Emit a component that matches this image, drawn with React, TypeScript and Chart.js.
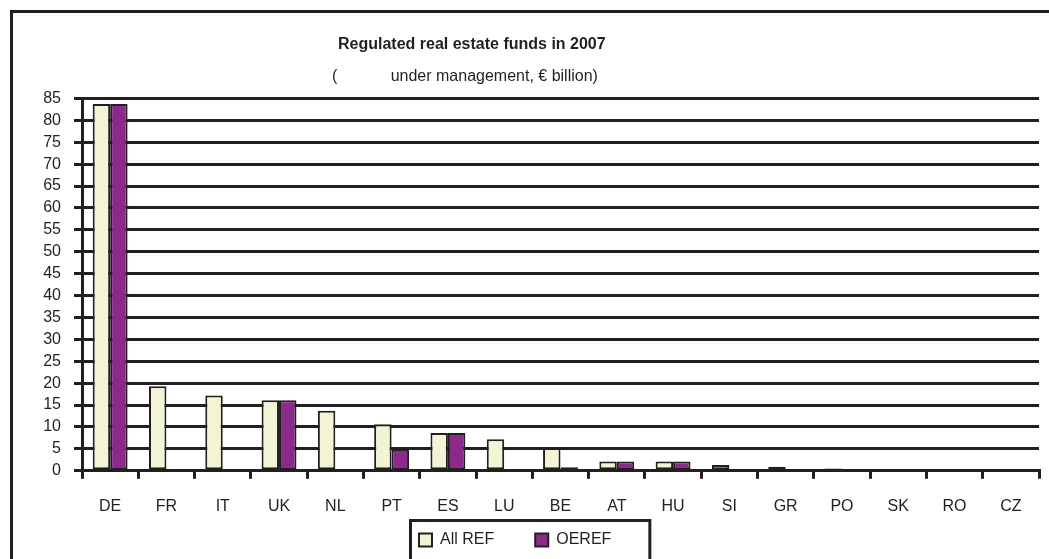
import React, { useEffect, useRef } from "react";
import { Chart, registerables } from "chart.js";

Chart.register(...registerables);

const categories = ["DE", "FR", "IT", "UK", "NL", "PT", "ES", "LU", "BE", "AT", "HU", "SI", "GR", "PO", "SK", "RO", "CZ"];
const allRefValues = [83.7, 19.3, 17.2, 16.1, 13.7, 10.6, 8.6, 7.2, 5.2, 2.1, 2.1, 1.3, 0.9, 0.5, 0, 0, 0];
const oerefValues = [83.7, null, null, 16.1, null, 4.8, 8.6, null, 0.8, 2.1, 2.1, null, null, null, null, null, null];
const seriesNames = ["All REF", "OEREF"];
const yMin = 0;
const yMax = 85;
const yStep = 5;
const titleText = "Regulated real estate funds in 2007";
const subtitleText = "(            under management, € billion)";

const INK = "#231f20";
const CREAM = "#f3f3d5";
const PURPLE = "#8c2a8c";
const FONT = "'Liberation Sans', Arial, Helvetica, sans-serif";

const refLayout = {
  id: "refLayout",
  afterLayout(chart: any) {
    const t = chart.titleBlock;
    if (t) {
      const w = t.right - t.left;
      t.left = 338;
      t.right = 338 + w;
      const sub = chart.boxes.find((b: any) => b !== t && b.constructor === t.constructor);
      if (sub) {
        const sw = sub.right - sub.left;
        sub.left = 332;
        sub.right = 332 + sw;
      }
    }
    const lg = chart.legend;
    if (lg && lg.lineWidths) {
      const pad = lg.options.labels.padding;
      const cur = (lg.left + pad + lg.right - lg.lineWidths[0]) / 2;
      const d = 419 - cur;
      lg.left += d;
      lg.right += d;
      lg.top = 532 - pad;
      lg.bottom = chart.height;
      lg.height = lg.bottom - lg.top;
    }
  },
  beforeDraw(chart: any) {
    const ctx = chart.ctx;
    ctx.save();
    ctx.strokeStyle = INK;
    ctx.lineWidth = 3;
    ctx.strokeRect(11.5, 11.5, chart.width + 40, chart.height + 40);
    ctx.restore();
  },
  afterDraw(chart: any) {
    const lg = chart.legend;
    const hb = lg && lg.legendHitBoxes;
    if (!hb || hb.length < 2) return;
    const first = hb[0];
    const last = hb[hb.length - 1];
    const ctx = chart.ctx;
    ctx.save();
    ctx.strokeStyle = INK;
    ctx.lineWidth = 3;
    const left = first.left - 9;
    const right = last.left + last.width + 38;
    const top = first.top - 12;
    ctx.strokeRect(Math.round(left) + 0.5, Math.round(top) + 0.5, right - left, chart.height - top + 20);
    ctx.restore();
  },
};

export default function App() {
  const canvasRef = useRef<HTMLCanvasElement>(null);

  useEffect(() => {
    const canvas = canvasRef.current;
    if (!canvas) return;
    Chart.defaults.font.family = FONT;
    Chart.defaults.color = INK;
    const chart = new Chart(canvas, {
      type: "bar",
      data: {
        labels: categories,
        datasets: [
          {
            label: seriesNames[0],
            data: allRefValues,
            backgroundColor: CREAM,
            borderColor: INK,
            borderWidth: 2,
            borderSkipped: false,
          },
          {
            label: seriesNames[1],
            data: oerefValues,
            backgroundColor: PURPLE,
            borderColor: INK,
            borderWidth: 2,
            borderSkipped: false,
          },
        ],
      },
      options: {
        responsive: false,
        animation: false,
        devicePixelRatio: 1,
        datasets: {
          bar: {
            categoryPercentage: 0.62,
            barPercentage: 1,
          },
        },
        layout: {
          padding: { left: 20, right: 10, top: 0, bottom: 0 },
        },
        plugins: {
          title: {
            display: true,
            text: titleText,
            align: "start",
            color: INK,
            font: { family: FONT, size: 16, weight: "bold" },
            padding: { top: 35, bottom: 13 },
          },
          subtitle: {
            display: true,
            text: subtitleText,
            align: "start",
            color: INK,
            font: { family: FONT, size: 16, weight: "normal" },
            padding: { top: 0, bottom: 12 },
          },
          legend: {
            display: true,
            position: "bottom",
            maxHeight: 25,
            labels: {
              color: INK,
              font: { family: FONT, size: 16 },
              boxWidth: 13,
              boxHeight: 13,
              padding: 41,
            },
          },
          tooltip: { enabled: false },
        },
        scales: {
          x: {
            offset: true,
            grid: {
              display: true,
              drawOnChartArea: false,
              drawTicks: true,
              tickLength: 8,
              color: INK,
              lineWidth: 3,
              offset: true,
            },
            border: { display: true, color: INK, width: 3 },
            ticks: {
              color: INK,
              font: { family: FONT, size: 16 },
              padding: 18,
              maxRotation: 0,
              autoSkip: false,
            },
          },
          y: {
            min: yMin,
            max: yMax,
            afterFit: (scale: any) => {
              scale.width = 62;
            },
            grid: {
              display: true,
              drawOnChartArea: true,
              drawTicks: true,
              tickLength: 8,
              color: INK,
              lineWidth: 3,
            },
            border: { display: true, color: INK, width: 3 },
            ticks: {
              stepSize: yStep,
              autoSkip: false,
              color: INK,
              font: { family: FONT, size: 16 },
              padding: 13,
            },
          },
        },
      },
      plugins: [refLayout],
    });
    return () => chart.destroy();
  }, []);

  return (
    <div style={{ position: "fixed", left: 0, top: 0, width: 1049, height: 559, background: "#ffffff", overflow: "hidden" }}>
      <canvas ref={canvasRef} width={1049} height={559} style={{ display: "block", width: 1049, height: 559 }} />
    </div>
  );
}
